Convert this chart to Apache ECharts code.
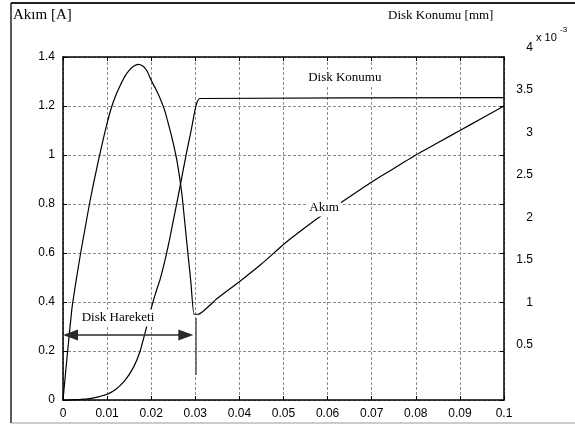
<!DOCTYPE html>
<html>
<head>
<meta charset="utf-8">
<script src="https://cdn.jsdelivr.net/npm/echarts@6/dist/echarts.min.js"></script>
<style>
html, body { margin: 0; padding: 0; background: #fff; }
#chart { width: 575px; height: 425px; }
</style>
</head>
<body>
<div id="chart"></div>
<script>
// Coil current (A) over time (s)
const akimT = [0, 0.001, 0.002, 0.003, 0.004, 0.005, 0.006, 0.007, 0.008, 0.009,
  0.010, 0.011, 0.012, 0.013, 0.014, 0.015, 0.016, 0.017, 0.018, 0.019,
  0.020, 0.021, 0.022, 0.023, 0.024, 0.025, 0.026, 0.027, 0.028, 0.029,
  0.0297, 0.0307, 0.035, 0.040, 0.045, 0.050, 0.055, 0.060, 0.065, 0.070,
  0.075, 0.080, 0.085, 0.090, 0.095, 0.100];
const akimA = [0, 0.19, 0.37, 0.49, 0.60, 0.70, 0.80, 0.89, 0.975, 1.055,
  1.13, 1.195, 1.245, 1.285, 1.32, 1.345, 1.362, 1.370, 1.364, 1.345,
  1.305, 1.27, 1.232, 1.185, 1.12, 1.048, 0.96, 0.835, 0.655, 0.48,
  0.35, 0.35, 0.415, 0.483, 0.555, 0.635, 0.705, 0.77, 0.83, 0.89,
  0.945, 1.0, 1.05, 1.10, 1.15, 1.20];

// Disk position (mm, x 10^-3) over time (s)
const diskT = [0, 0.004, 0.006, 0.008, 0.010, 0.012, 0.014, 0.016, 0.0175, 0.019,
  0.020, 0.021, 0.022, 0.023, 0.024, 0.025, 0.026, 0.027, 0.028, 0.029,
  0.030, 0.0305, 0.031, 0.100];
const diskPos = [-0.15, -0.14, -0.13, -0.11, -0.08, -0.02, 0.08, 0.24, 0.43, 0.72,
  0.93, 1.11, 1.27, 1.47, 1.70, 1.96, 2.22, 2.49, 2.76, 3.01,
  3.28, 3.37, 3.40, 3.41];

// Axis ranges and tick steps
const timeRange = [0, 0.1], timeStep = 0.01;
const akimRange = [0, 1.4], akimStep = 0.2;
const diskRange = [0, 4], diskStep = 0.5;

// Annotation texts: [label, time, current]
const notes = [
  ['Akım', 0.0592, 0.784],
  ['Disk Hareketi', 0.01247, 0.335],
  ['Disk Konumu', 0.0639, 1.314]
];
// Travel span of the disk (time) drawn as a double arrow at this current level
const travel = [0, 0.02955];
const travelLevel = 0.265;
const stopMark = [0.0302, 0.335, 0.102];

const serif = 'Liberation Serif';
const sans = 'Liberation Sans';

// Plot box geometry (px)
const plot = { left: 63, right: 71, top: 57, bottom: 25 };
const plotWidth = 575 - plot.left - plot.right;
const arrowHead = [11, 15];
// ECharts centres the end symbols on the line ends; pull the ends in by half a head
const headShift = (arrowHead[1] / 2) * (timeRange[1] - timeRange[0]) / plotWidth;

const chart = echarts.init(document.getElementById('chart'));

const dash = { color: '#8c8c8c', type: [3, 2], width: 1 };
const frameLine = { show: true, onZero: false, lineStyle: { color: '#000', width: 1.5 } };
const inTick = { show: true, inside: true, length: 4, lineStyle: { color: '#000', width: 1 } };

chart.setOption({
  animation: false,
  backgroundColor: '#fff',
  grid: [
    plot,
    { left: 63, right: 71, top: 47.5, bottom: 37.5 }
  ],
  xAxis: [
    {
      gridIndex: 0, type: 'value', min: timeRange[0], max: timeRange[1], interval: timeStep,
      position: 'bottom', axisLine: frameLine, axisTick: inTick,
      axisLabel: { color: '#000', fontFamily: sans, fontSize: 12, margin: 8,
        formatter: v => String(+v.toFixed(2)) },
      splitLine: { show: true, lineStyle: dash }
    },
    {
      gridIndex: 0, type: 'value', min: timeRange[0], max: timeRange[1], interval: timeStep,
      position: 'top', axisLine: frameLine, axisTick: inTick,
      axisLabel: { show: false }, splitLine: { show: false }
    },
    { gridIndex: 1, type: 'value', min: timeRange[0], max: timeRange[1], show: false }
  ],
  yAxis: [
    {
      gridIndex: 0, type: 'value', min: akimRange[0], max: akimRange[1], interval: akimStep,
      position: 'left', axisLine: frameLine, axisTick: inTick,
      axisLabel: { color: '#000', fontFamily: sans, fontSize: 12, margin: 8,
        formatter: v => String(+v.toFixed(1)) },
      splitLine: { show: true, lineStyle: dash }
    },
    {
      gridIndex: 0, type: 'value', min: akimRange[0], max: akimRange[1], interval: akimStep,
      position: 'right', axisLine: frameLine, axisTick: inTick,
      axisLabel: { show: false }, splitLine: { show: false }
    },
    {
      gridIndex: 1, type: 'value', min: diskRange[0], max: diskRange[1], interval: diskStep,
      position: 'right', axisLine: { show: false }, axisTick: { show: false },
      splitLine: { show: false },
      axisLabel: { color: '#000', fontFamily: sans, fontSize: 12, margin: 29, align: 'right',
        showMinLabel: false, formatter: v => String(+v.toFixed(1)) }
    }
  ],
  series: [
    {
      name: 'Akım', type: 'line', xAxisIndex: 0, yAxisIndex: 0,
      data: akimT.map((t, i) => [t, akimA[i]]),
      symbol: 'none', smooth: 0.15,
      lineStyle: { color: '#000', width: 1.2 }, z: 3,
      markLine: {
        silent: true, animation: false,
        label: { show: false },
        data: [
          [
            { coord: [travel[0] + headShift, travelLevel], symbol: 'triangle', symbolSize: arrowHead,
              lineStyle: { color: '#2a2a2a', width: 1.5, type: 'solid' } },
            { coord: [travel[1] - headShift, travelLevel], symbol: 'triangle', symbolSize: arrowHead }
          ],
          [
            { coord: [stopMark[0], stopMark[1]], symbol: 'none',
              lineStyle: { color: '#555', width: 1.5, type: 'solid' } },
            { coord: [stopMark[0], stopMark[2]], symbol: 'none' }
          ]
        ],
        itemStyle: { color: '#000' }
      },
      markPoint: {
        silent: true, animation: false,
        symbol: 'rect', symbolSize: 1, itemStyle: { color: 'rgba(0,0,0,0)' },
        label: {
          show: true, position: 'inside', formatter: '{b}',
          color: '#000', fontFamily: serif, fontSize: 13,
          backgroundColor: '#fff', padding: [2, 2]
        },
        data: notes.map(n => ({ name: n[0], coord: [n[1], n[2]] }))
      }
    },
    {
      name: 'Disk Konumu', type: 'line', xAxisIndex: 2, yAxisIndex: 2,
      data: diskT.map((t, i) => [t, diskPos[i]]),
      symbol: 'none', smooth: 0.15, clip: false,
      lineStyle: { color: '#000', width: 1.2 }, z: 2
    }
  ],
  graphic: [
    { type: 'line', shape: { x1: 11, y1: 3, x2: 575, y2: 3 }, style: { stroke: '#222', lineWidth: 2 } },
    { type: 'line', shape: { x1: 11, y1: 3, x2: 11, y2: 423 }, style: { stroke: '#222', lineWidth: 1.5 } },
    { type: 'line', shape: { x1: 11, y1: 423, x2: 575, y2: 423 }, style: { stroke: '#999', lineWidth: 1 } },
    { type: 'text', left: 13, top: 8, style: { text: 'Akım [A]', font: '15px "Liberation Serif"', fill: '#000' } },
    { type: 'text', left: 388, top: 9, style: { text: 'Disk Konumu [mm]', font: '13px "Liberation Serif"', fill: '#000' } },
    { type: 'text', left: 536, top: 32, style: { text: 'x 10', font: '11px "Liberation Sans"', fill: '#000' } },
    { type: 'text', left: 560, top: 26, style: { text: '-3', font: '8px "Liberation Sans"', fill: '#000' } }
  ]
});
</script>
</body>
</html>
